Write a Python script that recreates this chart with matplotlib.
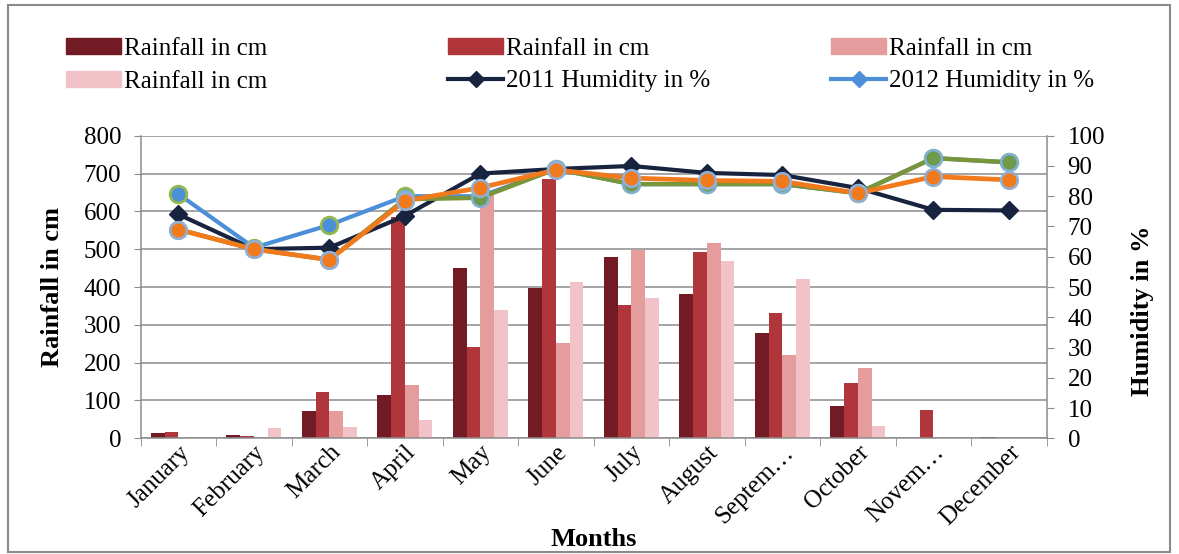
import matplotlib
matplotlib.use("Agg")
import matplotlib.pyplot as plt
import numpy as np
from matplotlib.patches import Rectangle
from matplotlib.lines import Line2D

plt.rcParams['font.family'] = ['Liberation Serif', 'DejaVu Serif']

months = ['January', 'February', 'March', 'April', 'May', 'June', 'July',
          'August', 'Septem…', 'October', 'Novem…', 'December']

# Rainfall (cm), four series
rain_a = [15, 10, 72, 114, 451, 398, 479, 381, 278, 85, 1, 3]
rain_b = [17, 7, 123, 585, 241, 685, 353, 492, 331, 145, 75, 1]
rain_c = [2, 2, 72, 141, 648, 253, 498, 516, 219, 185, 1, 1]
rain_d = [2, 28, 30, 48, 340, 414, 370, 470, 421, 33, 1, 1]

# Humidity (%), four series
hum_2011 = [74, 62.5, 63, 73.5, 87.5, 89, 90, 87.7, 87, 82.7, 75.5, 75.3]
hum_2012 = [80.7, 63, 70.5, 80, 80, 89, 84, 84, 84, 81, 92.6, 91.2]
hum_green = [69, 62.5, 59, 79, 79.5, 89, 84, 84, 84, 81, 92.6, 91.2]
hum_orange = [69, 62.5, 59, 78.5, 82.8, 88.7, 86, 85.2, 84.9, 81, 86.5, 85.4]

bar_colors = ['#721b25', '#b0363b', '#e49c9c', '#f1c3c8']
rain_series = [rain_a, rain_b, rain_c, rain_d]

W, H = 1179, 554
fig = plt.figure(figsize=(W / 100, H / 100), dpi=100)
ax = fig.add_axes([140.7 / W, 1 - 438.3 / H, 906 / W, 302.6 / H])

FS = 18

x = np.arange(len(months))
bw = 1 / 5.5
for i, (vals, col) in enumerate(zip(rain_series, bar_colors)):
    ax.bar(x + (i - 1.5) * bw, vals, width=bw, color=col, zorder=2,
           linewidth=0)

ax.set_xlim(-0.5, len(months) - 0.5)
ax.set_ylim(0, 800)
ax.set_yticks(np.arange(0, 801, 100))
ax.yaxis.grid(True, color='#8c8c8c', linewidth=1.1, zorder=0)
ax.set_axisbelow(True)
ax.set_xticks(x)
ax.set_xticklabels(months, rotation=45, ha='right', rotation_mode='anchor',
                   fontsize=FS)
ax.tick_params(axis='x', length=0, pad=2)
ax.set_xticks(np.arange(-0.5, len(months)), minor=True)
ax.tick_params(axis='x', which='minor', length=6, color='#8c8c8c')
ax.tick_params(axis='y', length=5, color='#8c8c8c', labelsize=FS, pad=9)
for s in ['top', 'right']:
    ax.spines[s].set_visible(False)
for s in ['left', 'bottom']:
    ax.spines[s].set_color('#8c8c8c')
    ax.spines[s].set_linewidth(1.1)

ax.set_ylabel('Rainfall in cm', fontsize=19, fontweight='bold')
ax.yaxis.set_label_coords(-0.085, 0.5)
ax.set_xlabel('Months', fontsize=19, fontweight='bold')
ax.xaxis.set_label_coords(0.5, -0.296)

ax2 = ax.twinx()
ax2.set_ylim(0, 100)
ax2.set_yticks(np.arange(0, 101, 10))
ax2.tick_params(axis='y', length=5, color='#8c8c8c', labelsize=FS, pad=10)
for s in ['top', 'left', 'bottom']:
    ax2.spines[s].set_visible(False)
ax2.spines['right'].set_color('#8c8c8c')
ax2.spines['right'].set_linewidth(1.1)
ax2.set_ylabel('Humidity in %', fontsize=19, fontweight='bold')
ax2.yaxis.set_label_coords(1.093, 0.42)

navy = '#17233f'
blue = '#4a8fd8'
green = '#78953a'
orange = '#f07a1c'

ax2.plot(x, hum_2011, color=navy, lw=3, marker='D', ms=9.5,
         mfc=navy, mec=navy, zorder=3)
ax2.plot(x, hum_2012, color=blue, lw=3, marker='o', ms=12,
         mfc=blue, mec='#93b84e', mew=2, zorder=3.2)
ax2.plot(x, hum_green, color=green, lw=3.2, marker='o', ms=12,
         mfc='#6f9a4a', mec='#7fb0d8', mew=1.8, zorder=3.5)
ax2.plot(x, hum_orange, color=orange, lw=3.4, marker='o', ms=12,
         mfc=orange, mec='#8fb0d8', mew=1.8, zorder=5)

# legend in three columns across the top
handles = [Rectangle((0, 0), 1, 1, color=c) for c in bar_colors]
handles += [Line2D([], [], color=navy, lw=3, marker='D', ms=8),
            Line2D([], [], color=blue, lw=3, marker='D', ms=8)]
labels = ['Rainfall in cm'] * 4 + ['2011 Humidity in %', '2012 Humidity in %']
cols = [(0, 3), (1, 4), (2, 5)]
xs = [66, 448, 831]
for (i, j), xp in zip(cols, xs):
    fig.legend([handles[i], handles[j]], [labels[i], labels[j]],
               loc='upper left', bbox_to_anchor=(xp / W, 1 - 38 / H),
               frameon=False, fontsize=FS, handlelength=2.2,
               handleheight=0.6, handletextpad=0.12, labelspacing=0.42,
               borderaxespad=0, borderpad=0)

# outer chart frame
fig.patches.append(Rectangle((8 / W, 0.004), (1170 - 8) / W, 1 - 5 / H - 0.004,
                             transform=fig.transFigure, fill=False,
                             edgecolor='#8a8a8a', lw=1.5))

fig.savefig('out.png', dpi=100)
